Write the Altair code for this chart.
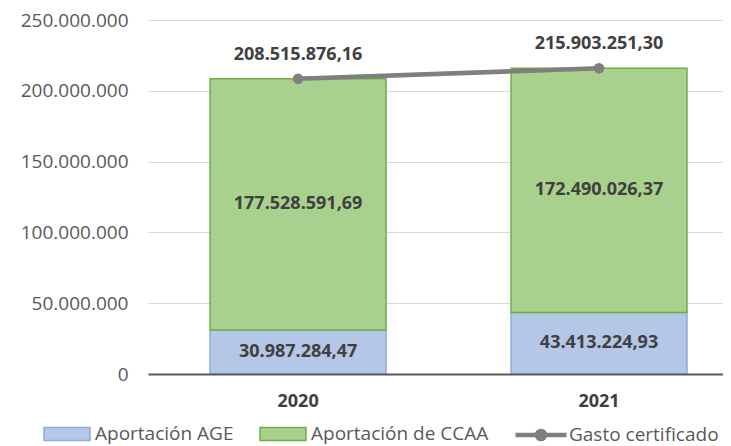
import altair as alt
import pandas as pd

years = ["2020", "2021"]
series = ["Aportación AGE", "Aportación de CCAA"]
aportacion_age = [30987284.47, 43413224.93]
aportacion_ccaa = [177528591.69, 172490026.37]
line_series = "Gasto certificado"
gasto_certificado = [208515876.16, 215903251.30]
y_ticks = [0, 50000000, 100000000, 150000000, 200000000, 250000000]

fill_colors = ["#b4c7e7", "#a9d18e"]
stroke_colors = ["#8faadc", "#70ad47"]
line_color = "#7f7f7f"
text_color = "#404040"
axis_color = "#595959"


def es_fmt(v):
    s = f"{v:,.2f}"
    return s.replace(",", "X").replace(".", ",").replace("X", ".")


bars_df = pd.DataFrame({
    "year": years * 2,
    "serie": [series[0]] * len(years) + [series[1]] * len(years),
    "value": aportacion_age + aportacion_ccaa,
    "order": [0] * len(years) + [1] * len(years),
})
bars_df["label"] = bars_df["value"].map(es_fmt)

line_df = pd.DataFrame({
    "year": years,
    "serie": [line_series] * len(years),
    "value": gasto_certificado,
})
line_df["label"] = line_df["value"].map(es_fmt)

x_scale = alt.Scale(type="band", paddingInner=0.4153, paddingOuter=0.163, align=0.633)
x_axis = alt.Axis(labelAngle=0, labelFont="Open Sans", labelFontSize=18, labelFontWeight="bold",
                  labelColor=text_color, labelPadding=18, ticks=False, grid=False,
                  domainColor=axis_color, domainWidth=2, zindex=1)
x_enc = alt.X("year:N", sort=years, scale=x_scale, axis=x_axis, title=None)

y_scale = alt.Scale(domain=[0, 250000000], nice=False)
y_axis = alt.Axis(values=y_ticks,
                  labelExpr="replace(format(datum.value, ','), regexp(',', 'g'), '.')",
                  labelFont="Open Sans", labelFontSize=19, labelColor=axis_color,
                  labelPadding=20, ticks=False, domain=False,
                  gridColor="#d9d9d9", gridWidth=1)

leg1 = alt.Legend(title=None, orient="none", legendX=-105, legendY=390, direction="horizontal",
                  symbolType="M-1,-0.28L1,-0.28L1,0.28L-1,0.28Z", symbolSize=2116,
                  symbolStrokeWidth=1.5, labelFont="Open Sans", labelFontSize=19,
                  labelColor=axis_color, labelOffset=4, columnPadding=23, padding=0,
                  labelLimit=400)

leg2 = alt.Legend(title=None, orient="none", legendX=365, legendY=387, direction="horizontal",
                  symbolType="M-1,0L1,0M0.16,0A0.16,0.16,0,1,1,-0.16,0A0.16,0.16,0,1,1,0.16,0Z",
                  symbolSize=2601, symbolStrokeWidth=4.5, symbolFillColor=line_color,
                  symbolStrokeColor=line_color,
                  labelFont="Open Sans", labelFontSize=19, labelColor=axis_color,
                  labelOffset=0, padding=0, labelLimit=400)

bars = alt.Chart(bars_df).mark_bar(strokeWidth=1.5).encode(
    x=x_enc,
    y=alt.Y("value:Q", stack="zero", scale=y_scale, axis=y_axis, title=None),
    fill=alt.Fill("serie:N", scale=alt.Scale(domain=series, range=fill_colors), legend=leg1),
    stroke=alt.Stroke("serie:N", scale=alt.Scale(domain=series, range=stroke_colors), legend=leg1),
    order=alt.Order("order:Q"),
)

bar_text = alt.Chart(bars_df).transform_stack(
    stack="value", groupby=["year"], as_=["v0", "v1"], sort=[alt.SortField("order")]
).transform_calculate(
    mid="(datum.v0 + datum.v1) / 2"
).mark_text(font="Open Sans", fontSize=18, fontWeight="bold", color=text_color).encode(
    x=x_enc,
    y=alt.Y("mid:Q", scale=y_scale, axis=y_axis, title=None),
    text="label:N",
)

line = alt.Chart(line_df).mark_line(
    strokeWidth=4.5,
    point=alt.OverlayMarkDef(filled=True, size=115, color=line_color),
).encode(
    x=x_enc,
    y=alt.Y("value:Q", scale=y_scale, axis=y_axis, title=None),
    color=alt.Color("serie:N", scale=alt.Scale(domain=[line_series], range=[line_color]), legend=leg2),
)

line_text = alt.Chart(line_df).mark_text(
    font="Open Sans", fontSize=18, fontWeight="bold", color=text_color,
    baseline="alphabetic", dy=-19,
).encode(
    x=x_enc,
    y=alt.Y("value:Q", scale=y_scale, axis=y_axis, title=None),
    text="label:N",
)

chart = alt.layer(bars, bar_text, line, line_text).resolve_scale(
    color="independent"
).properties(
    width=575,
    height=354,
    autosize=alt.AutoSizeParams(type="none"),
    padding={"left": 140, "top": 12, "right": 0, "bottom": 76},
).configure_view(stroke=None)

chart.save("out.html", embed_options={"renderer": "svg", "actions": False})
